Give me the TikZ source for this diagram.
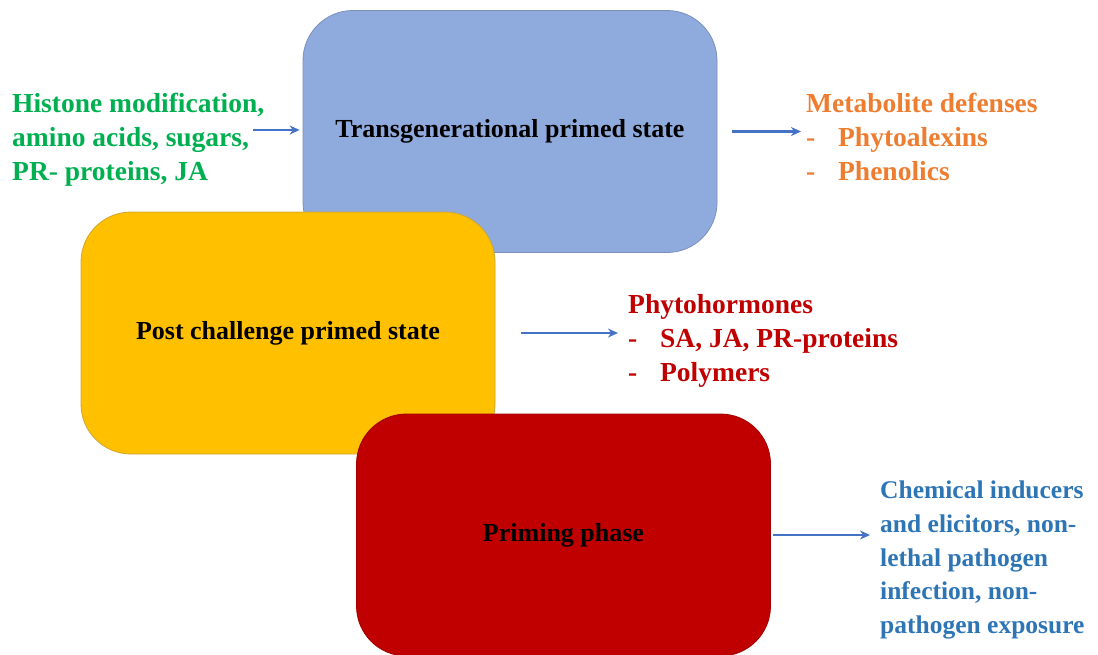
\documentclass[tikz,border=0pt]{standalone}
\usepackage{fontspec}
\setmainfont{Liberation Serif}
\usetikzlibrary{arrows.meta}
\definecolor{transblue}{HTML}{8FAADC}
\definecolor{postyellow}{HTML}{FFC000}
\definecolor{primered}{HTML}{C00000}
\definecolor{flowblue}{HTML}{4472C4}
\definecolor{inputgreen}{HTML}{00B050}
\definecolor{defenseorange}{HTML}{ED7D31}
\definecolor{inducerblue}{HTML}{2E75B6}
\newcommand{\listdash}{\makebox[32pt][l]{-}}
\begin{document}
\begin{tikzpicture}[x=1pt,y=-1pt,
  stage/.style={shape=rectangle,rounded corners=50pt,minimum width=414pt,minimum height=242pt,line width=0.8pt,font=\bfseries\fontsize{26}{31}\selectfont},
  side/.style={align=left,inner sep=0pt,anchor=west,font=\bfseries\fontsize{27.5}{34}\selectfont},
  flow/.style={-{Stealth[length=10pt,width=9pt]},line width=2.4pt,draw=flowblue}]
\useasboundingbox (0,0) rectangle (1098,654);
% the three stages, back to front
\path (510,131.5) node (trans) [stage,fill=transblue,draw=transblue!85!black] {Transgenerational primed state};
\path (288,333) node (post) [stage,fill=postyellow,draw=postyellow!60!gray] {Post challenge primed state};
\path (563.5,535) node (priming) [stage,fill=primered,draw=primered!85!black] {Priming phase};

\path (12,140) node (histone) [side,text=inputgreen] {Histone modification,\\ amino acids, sugars,\\ PR- proteins, JA};
\path (806,137) node (metab) [side,text=defenseorange] {Metabolite defenses\\ \listdash Phytoalexins\\ \listdash Phenolics};
\path (628,341) node (phyto) [side,text=primered] {Phytohormones\\ \listdash SA, JA, PR-proteins\\ \listdash Polymers};
\path (880,560) node (chem) [side,text=inducerblue,font=\bfseries\fontsize{25.5}{33.8}\selectfont] {Chemical inducers\\ and elicitors, non-\\ lethal pathogen\\ infection, non-\\ pathogen exposure};
\coordinate (histonetip) at (253,130);

\draw [flow,shorten >=3pt] (histonetip) to (histonetip -| trans.west);
\draw [flow,shorten <=15pt,shorten >=5pt] (trans.east) to (trans.east -| metab.west);
\draw [flow,shorten <=26pt,shorten >=10pt] (post.east) to (post.east -| phyto.west);
\draw [flow,shorten <=2pt,shorten >=10pt] (priming.east) to (priming.east -| chem.west);
\end{tikzpicture}
\end{document}
